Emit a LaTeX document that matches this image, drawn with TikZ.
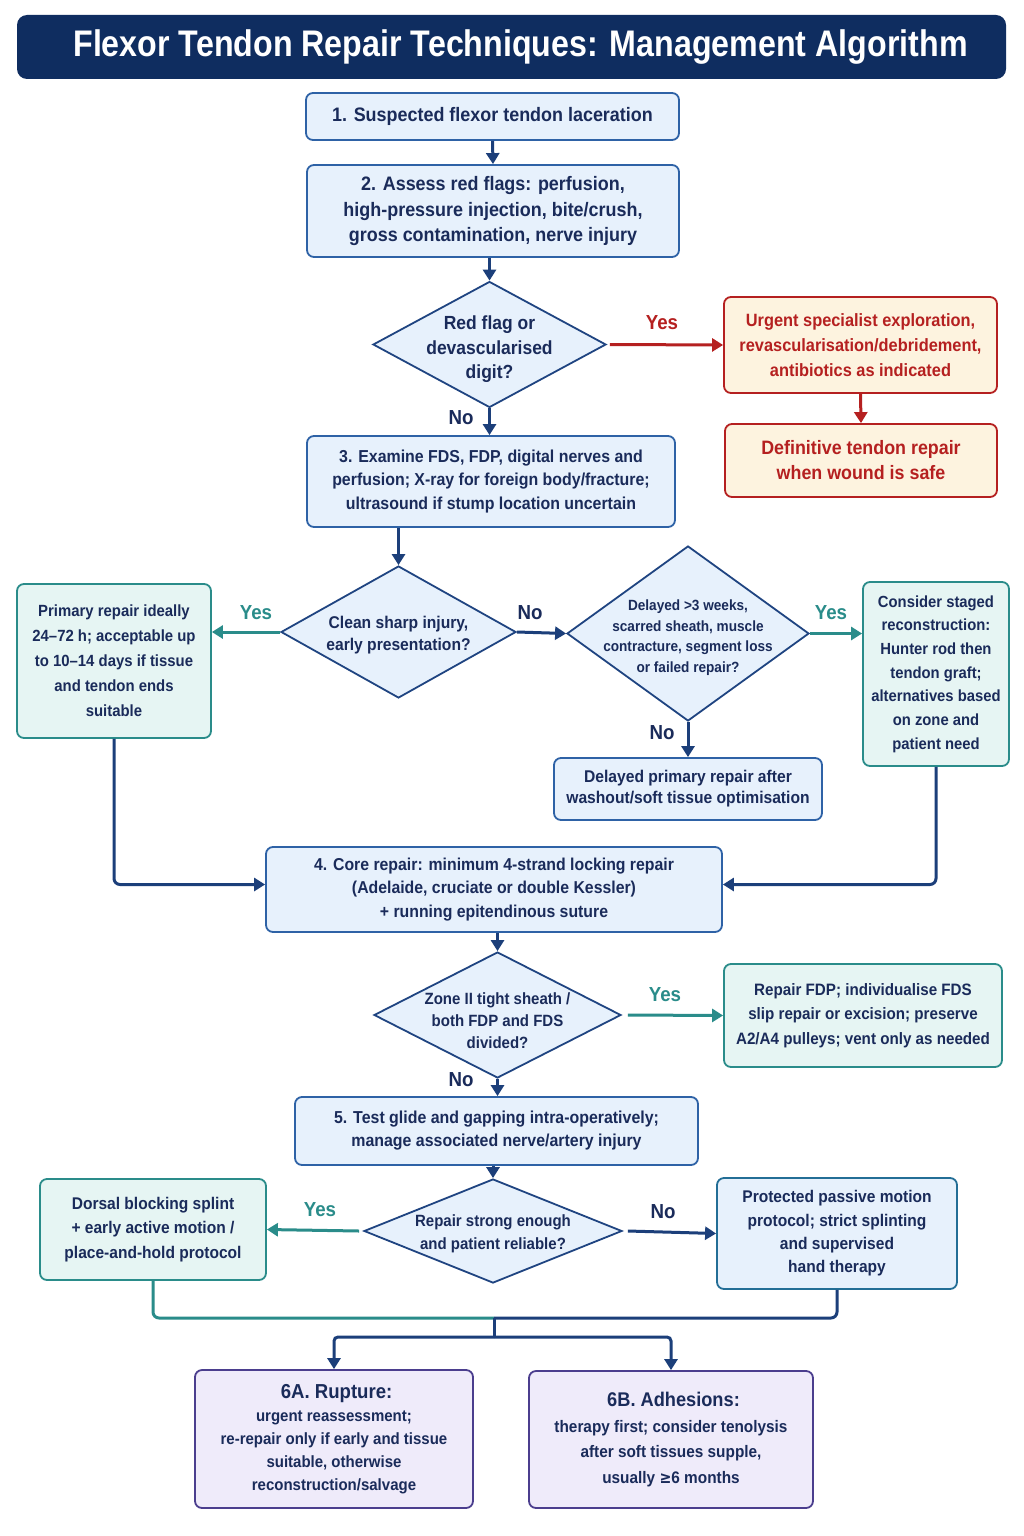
\documentclass[tikz,border=0pt]{standalone}
\usepackage{fontspec}
\setmainfont{Liberation Sans}[FakeStretch=0.92]
\newfontfamily\titlefont{Liberation Sans}[FakeStretch=0.87]
\usetikzlibrary{arrows.meta,shapes.geometric}
\definecolor{navy}{HTML}{1C3F7A}
\definecolor{txt}{HTML}{1A2B5A}
\definecolor{bluebd}{HTML}{2E62A6}
\definecolor{bluefl}{HTML}{E7F1FC}
\definecolor{tealbd}{HTML}{2A8C8A}
\definecolor{tealfl}{HTML}{E6F5F3}
\definecolor{redbd}{HTML}{B52020}
\definecolor{redfl}{HTML}{FDF3DF}
\definecolor{purbd}{HTML}{4B3E8E}
\definecolor{purfl}{HTML}{EFEBFA}
\definecolor{titlefl}{HTML}{0F2D60}
\definecolor{protbd}{HTML}{236E96}
\newcommand{\fs}[2]{\fontsize{#1}{#2}\selectfont\bfseries}
\tikzset{
  base/.style={rounded corners=7pt, line width=1.8pt, align=center, inner sep=2pt, text=txt,
    font=\fs{19.5}{25}},
  bbox/.style={base, draw=bluebd, fill=bluefl},
  tbox/.style={base, draw=tealbd, fill=tealfl},
  rbox/.style={base, draw=redbd, fill=redfl, text=redbd},
  pbox/.style={base, draw=purbd, fill=purfl},
  dia/.style={diamond, draw=navy!85!bluebd, fill=bluefl, line width=1.8pt, inner sep=0pt},
  dtext/.style={align=center, text=txt, font=\fs{17}{22}},
  arr/.style={line width=3pt, draw=navy, -{Triangle[length=11pt,width=13pt]}},
  tarr/.style={arr, draw=tealbd, fill=tealbd},
  rarr/.style={arr, draw=redbd},
  lab/.style={font=\fs{20.3}{24}, text=txt},
  tlab/.style={lab, text=tealbd},
  rlab/.style={lab, text=redbd},
}
\begin{document}
\begin{tikzpicture}[x=1pt,y=-1pt]
\useasboundingbox[fill=white] (0,0) rectangle (1024,1536);
% title
\node[rounded corners=10pt, fill=titlefl, minimum width=989pt, minimum height=64pt, text=white,
  font=\titlefont\fs{37}{40}] (title) at (511.5,47) {\hspace*{18pt}Flexor Tendon Repair Techniques: Management Algorithm};
% boxes
\node[bbox, minimum width=373pt, minimum height=47pt] (b1) at (492.5,116.5) {1. Suspected flexor tendon laceration};
\node[bbox, minimum width=372pt, minimum height=92pt, font=\fs{19.5}{25.5}] (b2) at (493,211) {2. Assess red flags: perfusion,\\high-pressure injection, bite/crush,\\gross contamination, nerve injury};
\node[dia, minimum width=233pt, minimum height=126pt] (d1) at (489.5,344.5) {};
\node[dtext, font=\fs{19}{24.5}] at ([yshift=-5pt]d1.center) {Red flag or\\devascularised\\digit?};
\node[rbox, minimum width=273pt, minimum height=96pt, font=\fs{17.8}{25}] (urg) at (860.5,345) {Urgent specialist exploration,\\revascularisation/debridement,\\antibiotics as indicated};
\node[rbox, minimum width=272pt, minimum height=73pt, font=\fs{19.4}{25}] (def) at (861,460.5) {Definitive tendon repair\\when wound is safe};
\node[bbox, minimum width=368pt, minimum height=91pt, font=\fs{17.3}{23.5}] (b3) at (491,481.5) {3. Examine FDS, FDP, digital nerves and\\perfusion; X-ray for foreign body/fracture;\\ultrasound if stump location uncertain};
\node[dia, minimum width=235pt, minimum height=132pt] (d2) at (398.5,632) {};
\node[dtext, font=\fs{17}{22.5}] at ([yshift=-3pt]d2.center) {Clean sharp injury,\\early presentation?};
\node[tbox, minimum width=194pt, minimum height=154pt, font=\fs{16.2}{25}] (prim) at (114,661) {Primary repair ideally\\24--72 h; acceptable up\\to 10--14 days if tissue\\and tendon ends\\suitable};
\node[dia, minimum width=242pt, minimum height=175pt] (d3) at (688,633.5) {};
\node[dtext, font=\fs{14.8}{20.5}] at ([yshift=-4pt]d3.center) {Delayed >3 weeks,\\scarred sheath, muscle\\contracture, segment loss\\or failed repair?};
\node[tbox, minimum width=146pt, minimum height=184pt, font=\fs{16.1}{23.7}] (stag) at (936,674) {Consider staged\\reconstruction:\\Hunter rod then\\tendon graft;\\alternatives based\\on zone and\\patient need};
\node[bbox, minimum width=268pt, minimum height=62pt, font=\fs{17}{21}] (del) at (688,789) {Delayed primary repair after\\washout/soft tissue optimisation};
\node[bbox, minimum width=456pt, minimum height=85pt, font=\fs{17.2}{23.5}] (b4) at (494,889.5) {4. Core repair: minimum 4-strand locking repair\\(Adelaide, cruciate or double Kessler)\\+ running epitendinous suture};
\node[dia, minimum width=247pt, minimum height=126pt] (d4) at (497.5,1015) {};
\node[dtext, font=\fs{16.3}{22}] at ([yshift=-6pt]d4.center) {Zone II tight sheath /\\both FDP and FDS\\divided?};
\node[tbox, minimum width=278pt, minimum height=103pt, font=\fs{16.5}{24.5}] (rfdp) at (863,1015.5) {Repair FDP; individualise FDS\\slip repair or excision; preserve\\A2/A4 pulleys; vent only as needed};
\node[bbox, minimum width=403pt, minimum height=68pt, font=\fs{17.3}{23}] (b5) at (496.5,1131) {5. Test glide and gapping intra-operatively;\\manage associated nerve/artery injury};
\node[dia, minimum width=258pt, minimum height=104pt] (d5) at (493,1231) {};
\node[dtext, font=\fs{16.3}{23}] at ([yshift=-3pt]d5.center) {Repair strong enough\\and patient reliable?};
\node[tbox, minimum width=226pt, minimum height=101pt, font=\fs{16.9}{24.5}] (dors) at (153,1229.5) {Dorsal blocking splint\\+ early active motion /\\place-and-hold protocol};
\node[base, draw=protbd, fill=bluefl, minimum width=240pt, minimum height=111pt, font=\fs{16.9}{23.3}] (prot) at (837,1233.5) {Protected passive motion\\protocol; strict splinting\\and supervised\\hand therapy};
\node[pbox, minimum width=278pt, minimum height=138pt, font=\fs{16.3}{23}] (r6a) at (334,1439) {{\fs{20.2}{26} 6A. Rupture:}\\urgent reassessment;\\re-repair only if early and tissue\\suitable, otherwise\\reconstruction/salvage};
\node[pbox, minimum width=284pt, minimum height=137pt, font=\fs{16.7}{25.5}] (r6b) at (671,1439.5) {{\fs{19.8}{28} 6B. Adhesions:}\\therapy first; consider tenolysis\\after soft tissues supple,\\usually {\fontspec{DejaVu Sans}[FakeStretch=0.85]\bfseries ≥}6 months};
% connectors
\draw[arr] (b1.south) -- (b2.north);
\draw[arr] (b2.south -| d1.north) -- (d1.north);
\draw[rarr] (d1.east) ++(3pt,0) -- (urg.west);
\node[rlab] (ly1) at (662,323) {Yes};
\draw[rarr] (urg.south) -- (def.north);
\draw[arr] (d1.south) -- (d1.south |- b3.north);
\node[lab] (ln1) at (461,418) {No};
\draw[arr] (d2.north |- b3.south) -- (d2.north);
\draw[tarr] (d2.west) -- (d2.west -| prim.east);
\node[tlab] (ly2) at (256,613) {Yes};
\draw[arr] (d2.east) -- (d3.west);
\node[lab] (ln2) at (530,613) {No};
\draw[tarr] (d3.east) -- (d3.east -| stag.west);
\node[tlab] (ly3) at (831,613) {Yes};
\draw[arr] (d3.south) -- (d3.south |- del.north);
\node[lab] (ln3) at (662,733) {No};
\draw[arr, rounded corners=6pt] (prim.south) |- ([yshift=5pt]b4.west);
\draw[arr, rounded corners=6pt] (stag.south) |- ([yshift=5pt]b4.east);
\draw[arr] (b4.south -| d4.north) -- (d4.north);
\draw[tarr] (d4.east) ++(6pt,0) -- (rfdp.west);
\node[tlab] (ly4) at (665,995) {Yes};
\draw[arr] (d4.south) -- (d4.south |- b5.north);
\node[lab] (ln4) at (461,1080) {No};
\draw[arr] (b5.south -| d5.north) -- (d5.north);
\draw[tarr] (d5.west) ++(-4pt,0) -- (dors.east);
\node[tlab] (ly5) at (320,1210) {Yes};
\draw[arr] (d5.east) ++(5pt,0) -- (prot.west);
\node[lab] (ln5) at (663,1212) {No};
\coordinate (merge) at (494,1318);
\coordinate (split) at (494,1337);
\draw[line width=3pt, draw=tealbd, rounded corners=6pt] (dors.south) |- (merge);
\draw[line width=3pt, draw=navy, rounded corners=6pt] (prot.south) |- (merge);
\draw[line width=3pt, draw=navy] (merge) -- (split);
\draw[arr, rounded corners=4pt] (split) -| (r6a.north);
\draw[arr, rounded corners=4pt] (split) -| (r6b.north);
\end{tikzpicture}
\end{document}
